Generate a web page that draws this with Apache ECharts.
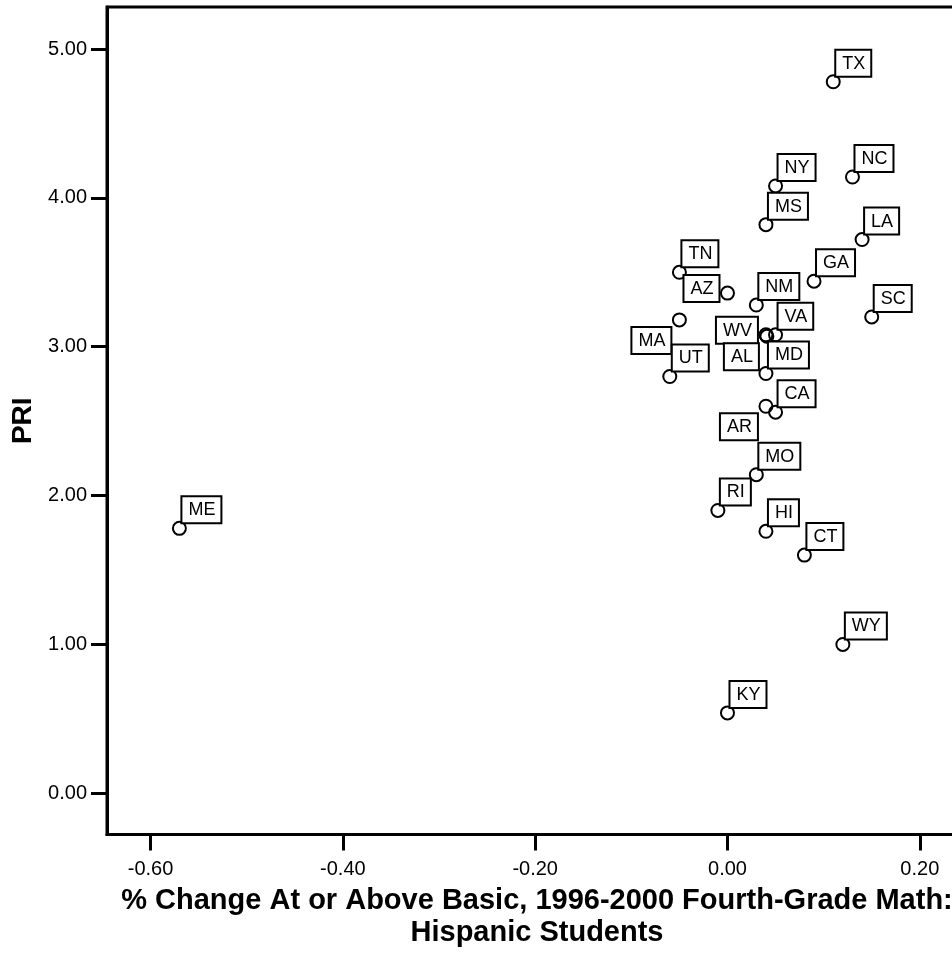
<!DOCTYPE html>
<html>
<head>
<meta charset="utf-8">
<script src="https://cdn.jsdelivr.net/npm/echarts@6/dist/echarts.min.js"></script>
<style>
html,body{margin:0;padding:0;background:#fff;}
#chart{width:952px;height:956px;}
</style>
</head>
<body>
<div id="chart"></div>
<script>
// ---- data ----
const states = ['TX','NC','NY','MS','LA','TN','GA','AZ','NM','SC','MA','WV','AL','VA','UT','MD','AR','CA','MO','RI','HI','CT','WY','KY','ME'];
const xVals  = [0.11,0.13,0.05,0.04,0.14,-0.05,0.09,0.00,0.03,0.15,-0.05,0.04,0.041,0.05,-0.06,0.04,0.04,0.05,0.03,-0.01,0.04,0.08,0.12,0.00,-0.57];
const yVals  = [4.78,4.14,4.08,3.82,3.72,3.50,3.44,3.36,3.28,3.20,3.18,3.08,3.07,3.08,2.80,2.82,2.60,2.56,2.14,1.90,1.76,1.60,1.00,0.54,1.78];
const xTicks = [-0.6,-0.4,-0.2,0.0,0.2];
const yTicks = [0,1,2,3,4,5];
const xTitle = '% Change At or Above Basic, 1996-2000 Fourth-Grade Math:\nHispanic Students';
const yTitle = 'PRI';
// labels that the original placed to the left / lower-left of their point
const leftLabels = ['AZ','WV'];
const lowerLeftLabels = ['MA','AL','AR'];

const FONT = '"Liberation Sans", Arial, sans-serif';

function labelFor(name){
  if (leftLabels.includes(name)) return {align:'right', verticalAlign:'bottom', offset:[-9,8]};
  if (lowerLeftLabels.includes(name)) return {align:'right', verticalAlign:'top', offset:[-9,8]};
  return {align:'left', verticalAlign:'bottom', offset:[3,-6]};
}

const data = states.map((s,i)=>({
  name: s,
  value: [xVals[i], yVals[i]],
  label: labelFor(s)
}));

const chart = echarts.init(document.getElementById('chart'), null, {renderer:'canvas'});
chart.setOption({
  animation:false,
  backgroundColor:'#fff',
  grid:{left:107, top:7, width:860, height:827.5, outerBoundsMode:'none', containLabel:false,
        show:true, borderColor:'#000', borderWidth:3, backgroundColor:'transparent'},
  xAxis:{
    type:'value', min:-0.6453, max:0.2491,
    name:xTitle, nameLocation:'middle', nameGap:50,
    nameTextStyle:{fontFamily:FONT, fontSize:29, fontWeight:'bold', color:'#000', lineHeight:32},
    axisLine:{show:true, onZero:false, lineStyle:{color:'#000', width:3}},
    axisTick:{show:true, length:16, lineStyle:{color:'#000', width:3}, customValues:xTicks},
    axisLabel:{customValues:xTicks, margin:25, fontFamily:FONT, fontSize:20, color:'#000',
      formatter:v=>Number(v).toFixed(2)},
    splitLine:{show:false}
  },
  yAxis:{
    type:'value', min:-0.2768, max:5.2821,
    name:yTitle, nameLocation:'middle', nameGap:68,
    nameTextStyle:{fontFamily:FONT, fontSize:28, fontWeight:'bold', color:'#000'},
    axisLine:{show:true, onZero:false, lineStyle:{color:'#000', width:3}},
    axisTick:{show:true, length:16, lineStyle:{color:'#000', width:3}, customValues:yTicks},
    axisLabel:{customValues:yTicks, margin:20, fontFamily:FONT, fontSize:20, color:'#000',
      formatter:v=>Number(v).toFixed(2)},
    splitLine:{show:false}
  },
  series:[{
    type:'scatter',
    data:data,
    symbol:'circle',
    symbolSize:13,
    silent:true,
    itemStyle:{color:'rgba(0,0,0,0)', borderColor:'#000', borderWidth:2, opacity:1},
    label:{
      show:true, position:'inside', formatter:'{b}',
      fontFamily:FONT, fontSize:18, color:'#000', lineHeight:18,
      backgroundColor:'#fff', borderColor:'#000', borderWidth:2,
      padding:[4,5,3,6]
    },
    emphasis:{disabled:true}
  }]
});
</script>
</body>
</html>
